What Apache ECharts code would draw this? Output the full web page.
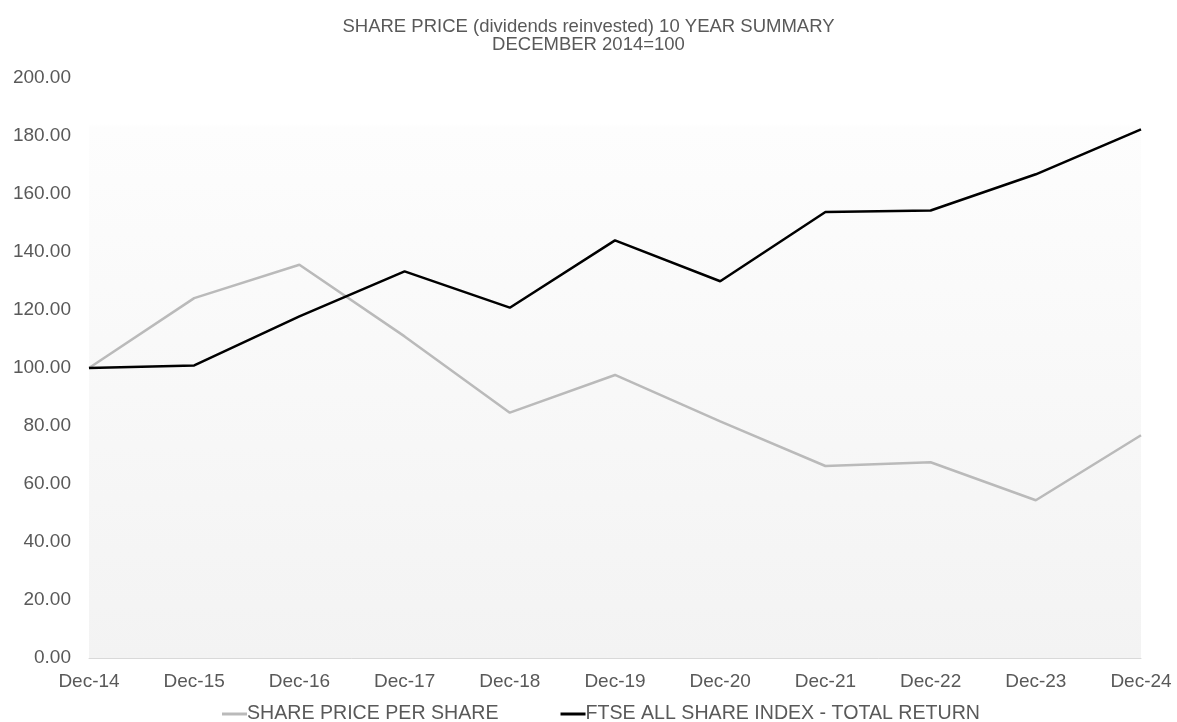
<!DOCTYPE html>
<html lang="en">
<head>
    <meta charset="UTF-8">
    <title>Share price 10 year summary</title>
    <script src="https://cdn.jsdelivr.net/npm/echarts@6/dist/echarts.min.js"></script>
    <style>
        html, body{
            margin: 0;
            padding: 0;
            background: #fff;
        }
        #box{
            width: 1177px;
            height: 722px;
        }
    </style>
</head>
<body>
<div id="box"></div>
<script>
    var years = ['Dec-14','Dec-15','Dec-16','Dec-17','Dec-18','Dec-19','Dec-20','Dec-21','Dec-22','Dec-23','Dec-24'];
    var sharePrice = [100, 124.1, 135.6, 110.9, 84.6, 97.6, 81.6, 66.2, 67.5, 54.4, 76.8];
    var ftseTotal = [100, 100.9, 117.8, 133.3, 120.8, 144.0, 129.9, 153.8, 154.3, 166.8, 182.3];
    var names = ['SHARE PRICE PER SHARE', 'FTSE ALL SHARE INDEX - TOTAL RETURN'];

    var txt = '#595959';
    var font = 'Arial, "Liberation Sans", sans-serif';

    var myChart = echarts.init(document.getElementById('box'));
    var option = {
        animation: false,
        title: {
            text: 'SHARE PRICE (dividends reinvested) 10 YEAR SUMMARY\nDECEMBER 2014=100',
            left: 'center',
            top: 13,
            textStyle: {
                color: txt,
                fontFamily: font,
                fontSize: 18.5,
                fontWeight: 'normal',
                lineHeight: 18
            }
        },
        legend: {
            top: 699,
            left: 217,
            itemWidth: 25,
            itemHeight: 3,
            itemGap: 62,
            icon: 'rect',
            textStyle: {
                color: txt,
                fontFamily: font,
                fontSize: 19.6,
                padding: [0, 0, 0, -5]
            },
            data: names
        },
        grid: {
            left: 89,
            right: 36,
            top: 78,
            bottom: 64,
            show: true,
            borderWidth: 0,
            backgroundColor: new echarts.graphic.LinearGradient(0, 0, 0, 1, [
                {offset: 0, color: '#ffffff'},
                {offset: 0.08, color: '#ffffff'},
                {offset: 0.085, color: '#fdfdfd'},
                {offset: 1, color: '#f3f3f3'}
            ])
        },
        xAxis: {
            type: 'category',
            boundaryGap: false,
            data: years,
            axisLine: {lineStyle: {color: '#d9d9d9', width: 1}},
            axisTick: {show: false},
            axisLabel: {
                color: txt,
                fontFamily: font,
                fontSize: 19,
                margin: 14
            }
        },
        yAxis: {
            type: 'value',
            min: 0,
            max: 200,
            interval: 20,
            axisLine: {show: false},
            axisTick: {show: false},
            splitLine: {show: false},
            axisLabel: {
                color: txt,
                fontFamily: font,
                fontSize: 19,
                margin: 18,
                formatter: function (v) { return v.toFixed(2); }
            }
        },
        series: [
            {
                name: names[0],
                type: 'line',
                data: sharePrice,
                showSymbol: false,
                color: '#bababa',
                lineStyle: {width: 2.5, color: '#bababa'}
            },
            {
                name: names[1],
                type: 'line',
                data: ftseTotal,
                showSymbol: false,
                color: '#000000',
                lineStyle: {width: 2.5, color: '#000000'}
            }
        ]
    };
    myChart.setOption(option, true);
</script>
</body>
</html>
